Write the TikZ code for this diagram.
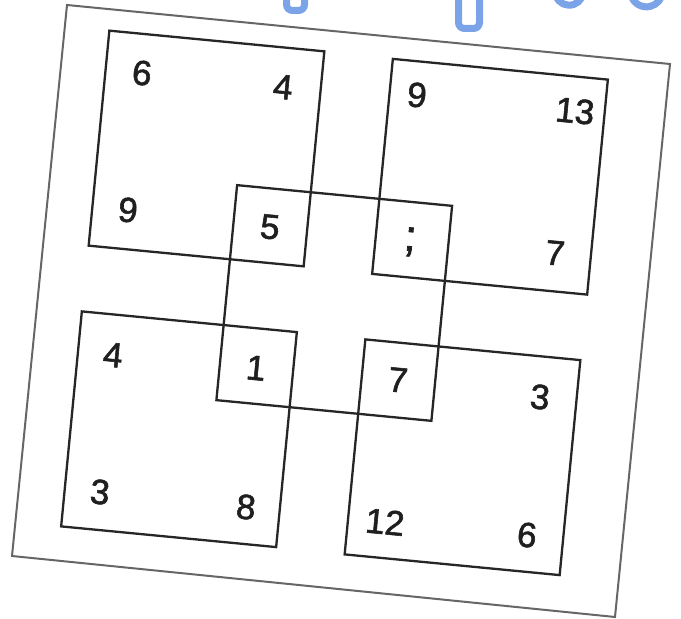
\documentclass[tikz,border=0pt]{standalone}
\usepackage{fontspec}
\setmainfont{Liberation Sans}
\newfontfamily\numfont[FakeBold=1.6]{Liberation Sans}
\begin{document}
\begin{tikzpicture}[x=1pt,y=1pt,
  sq/.style={draw=black!85, line width=2.3pt, minimum size=216pt, inner sep=0pt, rotate=-5.5, fill=none},
  num/.style={font=\numfont\fontsize{35}{35}\selectfont, text=black!88, rotate=-5.5, inner sep=0pt},
  blueline/.style={line width=7pt, line cap=round, rounded corners=6pt},
  pageedge/.style={draw=black!60, line width=2pt, fill=white}]
\useasboundingbox (0,0) rectangle (681,619);
\definecolor{wordblue}{HTML}{7BA3E8}
% page
\coordinate (p1) at (67,614);
\coordinate (p2) at (670,555);
\coordinate (p3) at (615,2);
\coordinate (p4) at (12,63);
\draw[pageedge] (p1) -- (p2) -- (p3) -- (p4) -- cycle;
% blue letter fragments
\draw[blueline, draw=wordblue] (286.5,625) -- (286.5,608.5) -- (304.5,608.5) -- (304.5,625);
\draw[blueline, draw=wordblue] (458.5,625) -- (458.5,590.5) -- (479.5,590.5) -- (479.5,625);
\draw[draw=wordblue, line width=7pt, line cap=round] (556,623) arc[start angle=200, end angle=330, radius=14];
\draw[draw=wordblue, line width=7pt, line cap=round] (631,624) arc[start angle=195, end angle=355, radius=16];
% squares
\node[sq] (tl) at (206.5,470.5) {};
\node[sq] (tr) at (490,442.25) {};
\node[sq] (c)  at (334.25,316) {};
\node[sq] (bl) at (179,189.75) {};
\node[sq] (br) at (462.5,161.75) {};
% numbers
\node[num] (n1) at (142,546) {6};
\node[num] (n2) at (283,532) {4};
\node[num] (n3) at (128,409) {9};
\node[num] (n4) at (270,392) {5};
\node[num] (n5) at (417,524) {9};
\node[num] (n6) at (575,508) {13};
\node[num, font=\numfont\fontsize{44}{44}\selectfont] (n7) at (410,377) {;};
\node[num] (n8) at (555,366) {7};
\node[num] (n9) at (113,264) {4};
\node[num] (n10) at (256,251) {1};
\node[num] (n11) at (100,127) {3};
\node[num] (n12) at (246,112) {8};
\node[num] (n13) at (398,239) {7};
\node[num] (n14) at (540,222) {3};
\node[num] (n15) at (385,97) {12};
\node[num] (n16) at (527,84) {6};
\end{tikzpicture}
\end{document}
